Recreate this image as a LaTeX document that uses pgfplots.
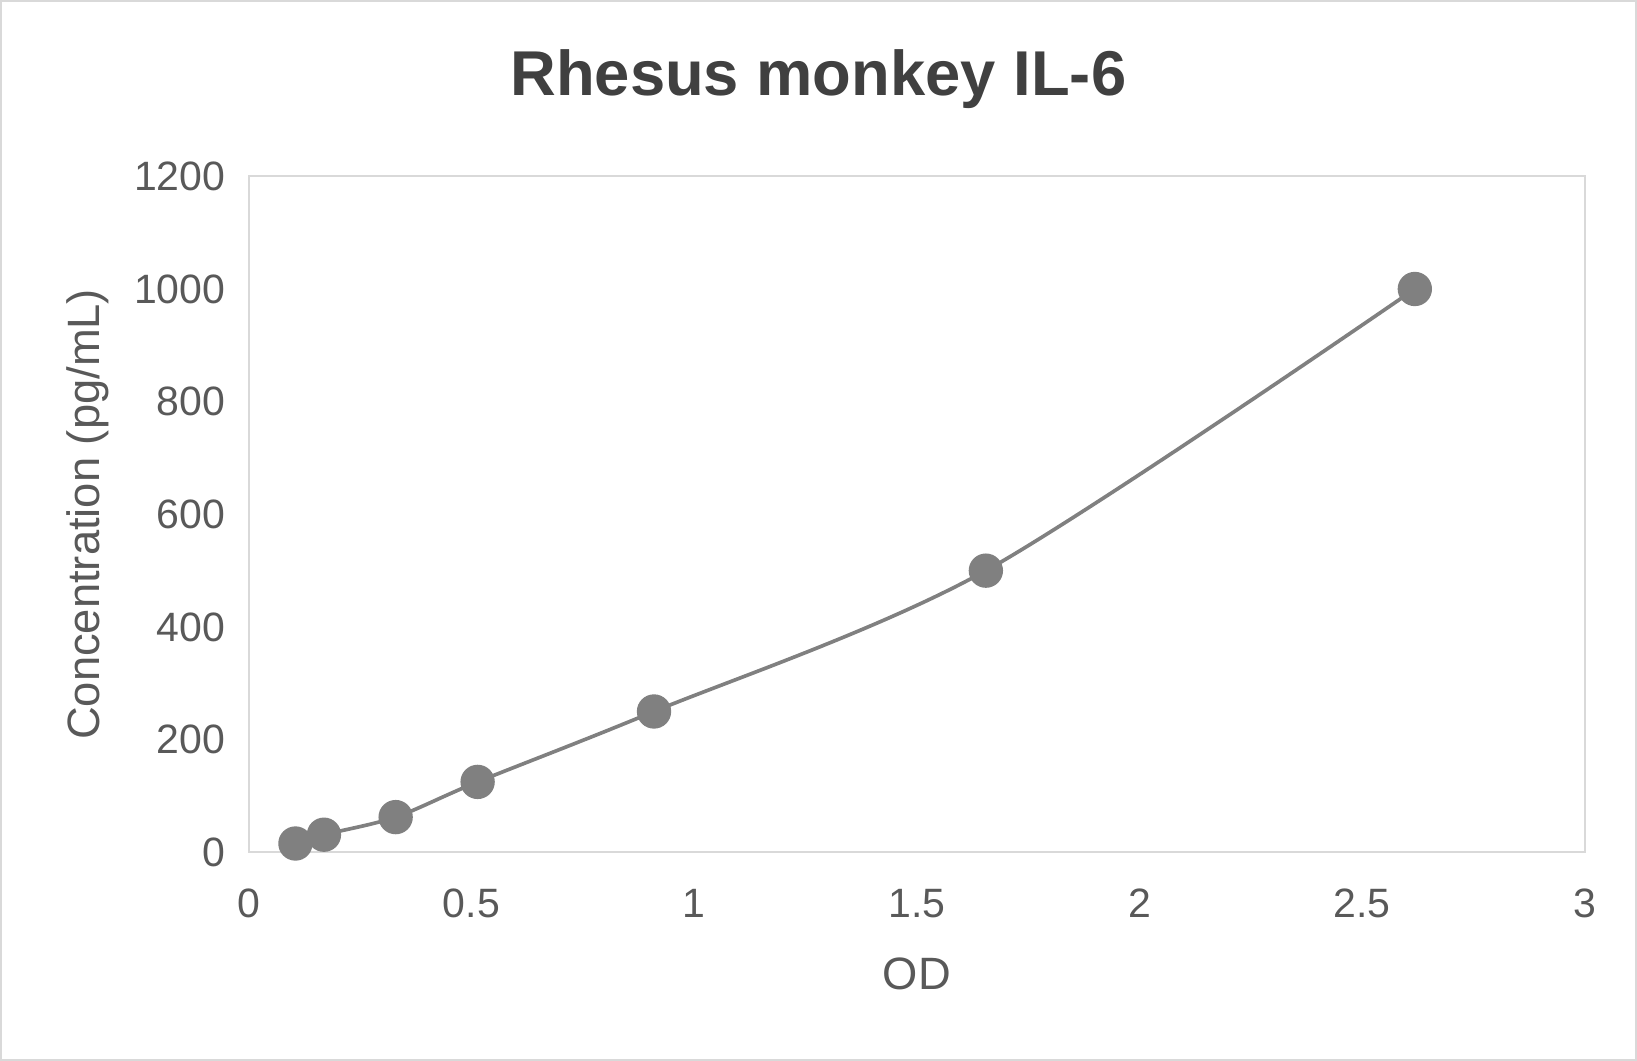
\documentclass[border=0pt]{standalone}
\usepackage{fontspec}
\setmainfont{Liberation Sans}
\usepackage{pgfplots}
\pgfplotsset{compat=1.18}

\definecolor{txt}{RGB}{89,89,89}
\definecolor{ttl}{RGB}{64,64,64}
\definecolor{frame}{RGB}{217,217,217}
\definecolor{series}{RGB}{128,128,128}

\begin{document}
\begin{tikzpicture}
% canvas: 1637 x 1061 px at 0.3pt/px
\draw[frame, line width=0.6pt] (0.3pt,0.3pt) rectangle (490.8pt,318.0pt);
\node[anchor=base, text=ttl, font=\fontsize{19}{22}\selectfont\bfseries]
  at (245.5pt,289.6pt) {Rhesus monkey IL-6};
\begin{axis}[
    at={(74.6pt,62.6pt)}, anchor=south west,
    scale only axis,
    width=400.9pt, height=202.8pt,
    xmin=0, xmax=3, ymin=0, ymax=1200,
    xtick={0,0.5,...,3}, ytick={0,200,...,1200},
    major tick length=0pt,
    axis line style={frame, line width=0.6pt},
    ticklabel style={font=\fontsize{12.3}{14}\selectfont, text=txt},
    /pgf/number format/assume math mode=true,
    /pgf/number format/1000 sep={},
    xticklabel style={yshift=-7.5pt},
    yticklabel style={xshift=-3.5pt},
    xlabel=OD,
    ylabel={Concentration (pg/mL)},
    label style={font=\fontsize{13.6}{16}\selectfont, text=txt},
    xlabel style={at={(axis description cs:0.5,0)}, anchor=base, yshift=-41.3pt},
    ylabel style={at={(axis description cs:0,0.5)}, anchor=center, yshift=48.4pt},
]
\addplot[color=series, line width=1.1pt, smooth, mark=*,
    mark options={fill=series, draw=series, scale=1}, mark size=4.6pt] coordinates {
    (0.105, 15.625) (0.169, 31.25) (0.330, 62.5) (0.514, 125)
    (0.910, 250) (1.655, 500) (2.618, 1000) };
\end{axis}
\end{tikzpicture}
\end{document}
